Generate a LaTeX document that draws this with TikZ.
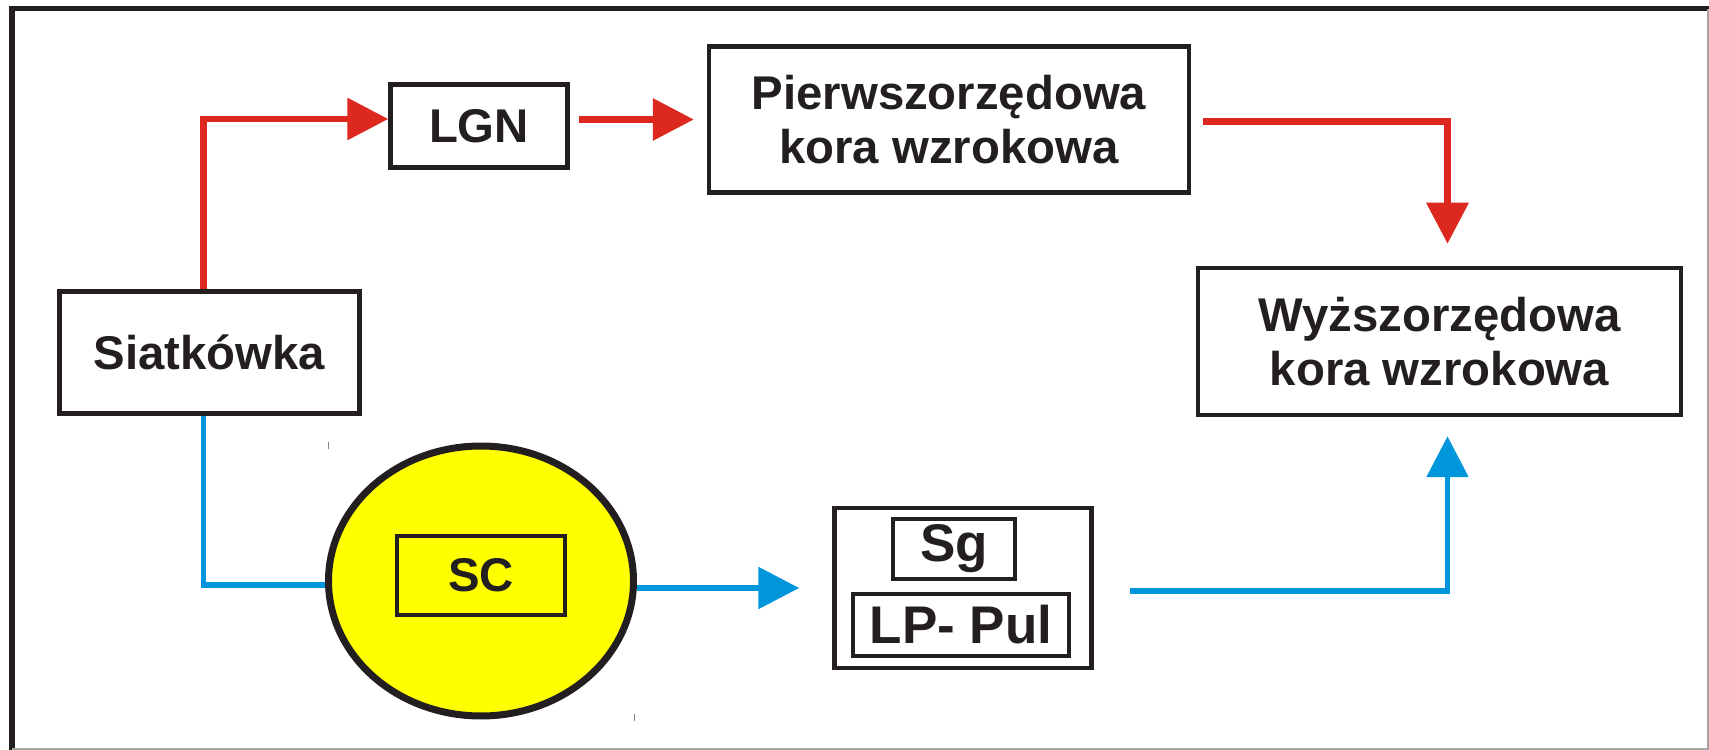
\documentclass[tikz,border=0pt]{standalone}
\usepackage{fontspec}
\setmainfont{Liberation Sans}
\usetikzlibrary{arrows.meta,shapes.geometric}
\definecolor{pathred}{RGB}{220,40,30}
\definecolor{pathblue}{RGB}{0,150,220}
\definecolor{ink}{RGB}{35,31,32}
\definecolor{scyellow}{RGB}{255,255,0}
\begin{document}
\begin{tikzpicture}[x=0.3pt,y=-0.3pt,
  box/.style={draw=ink, line width=1.35pt, rectangle, inner sep=0pt,
    font=\bfseries\fontsize{14.2}{16.1}\selectfont, text=ink, align=center},
  bigbox/.style={box, font=\bfseries\fontsize{15.9}{18}\selectfont},
  flowtip/.style={-{Triangle[length=12.3pt,width=12.3pt]}},
  redflow/.style={draw=pathred, line width=1.95pt, flowtip},
  blueflow/.style={draw=pathblue, line width=1.7pt, flowtip},
  blueline/.style={draw=pathblue, line width=1.7pt},
  frameline/.style={draw=ink},
  markline/.style={draw=gray, line width=0.3pt}]
\useasboundingbox (0,0) rectangle (1709,750);

% outer frame
\draw[frameline, line width=1.5pt] (9,9) -- (1709,9);
\draw[frameline, line width=1.95pt] (12,9) -- (12,750);
\draw[draw=gray!70, line width=0.6pt] (12,748.8) -- (1707.8,748.8) -- (1707.8,9);

% nodes
\node[box, minimum width=90pt, minimum height=36.6pt] (siat) at (209.5,352.5) {Siatkówka};
\node[box, minimum width=53.1pt, minimum height=24.9pt] (lgn) at (479,126) {LGN};
\node[box, minimum width=144pt, minimum height=43.8pt] (pierw) at (949,119.5) {Pierwszorzędowa\\kora wzrokowa};
\node[box, minimum width=144.9pt, minimum height=44.1pt] (wyz) at (1439.5,341.5) {Wyższorzędowa\\kora wzrokowa};

\node[ellipse, draw=ink, fill=scyellow, line width=2.1pt, inner sep=0pt,
      minimum width=91.5pt, minimum height=81pt] (ell) at (481,581) {};
\node[box, line width=1.2pt, minimum width=50.4pt, minimum height=23.7pt] (sc) at (481,575.5) {SC};

\node[box, minimum width=77.1pt, minimum height=48pt] (thal) at (963,588) {};
\node[bigbox, minimum width=36.6pt, minimum height=18pt] (sg) at (954,549) {Sg};
\node[bigbox, minimum width=64.8pt, minimum height=18.6pt] (lp) at (961,625) {LP- Pul};

% small marks at the corners of the ellipse frame
\draw[markline] (328.5,442) -- (328.5,449);
\draw[markline] (634.5,714) -- (634.5,721);

% red pathway
\draw[redflow] ([xshift=-1.8pt]siat.north) |- ([yshift=2.1pt]lgn.west);
\draw[redflow, shorten <=2.7pt, shorten >=3.9pt] (lgn.east |- pierw.west) -- (pierw.west);
\draw[redflow, shorten <=3.6pt, shorten >=6.6pt] ([yshift=-0.6pt]pierw.east) -| ([xshift=2.4pt]wyz.north);

% blue pathway
\draw[blueline] ([xshift=-1.8pt]siat.south) |- ([yshift=-1.2pt]ell.west);
\draw[blueflow, shorten >=9.9pt] (ell.east |- thal.west) -- (thal.west);
\draw[blueflow, shorten <=10.8pt, shorten >=5.7pt] ([yshift=-0.9pt]thal.east) -| ([xshift=2.4pt]wyz.south);
\end{tikzpicture}
\end{document}
